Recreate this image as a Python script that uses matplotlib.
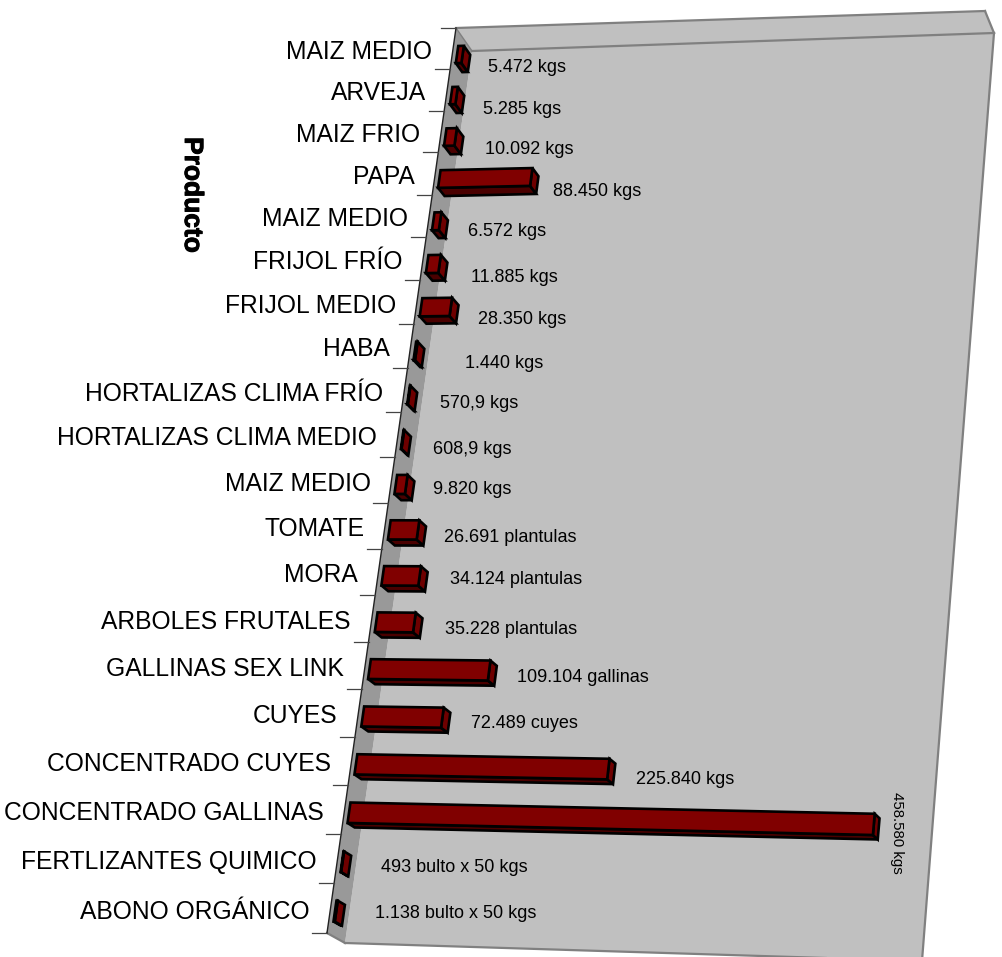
import numpy as np
import matplotlib
matplotlib.use('Agg')
import matplotlib.pyplot as plt
import matplotlib.patheffects as pe

plt.rcParams['font.family'] = ['Liberation Sans', 'DejaVu Sans']

productos = ['MAIZ MEDIO', 'ARVEJA', 'MAIZ FRIO', 'PAPA', 'MAIZ MEDIO', 'FRIJOL FRÍO',
             'FRIJOL MEDIO', 'HABA', 'HORTALIZAS CLIMA FRÍO', 'HORTALIZAS CLIMA MEDIO',
             'MAIZ MEDIO', 'TOMATE', 'MORA', 'ARBOLES FRUTALES', 'GALLINAS SEX LINK',
             'CUYES', 'CONCENTRADO CUYES', 'CONCENTRADO GALLINAS', 'FERTLIZANTES QUIMICO',
             'ABONO ORGÁNICO']
cantidades = [5472, 5285, 10092, 88450, 6572, 11885, 28350, 1440, 570.9, 608.9,
              9820, 26691, 34124, 35228, 109104, 72489, 225840, 458580, 493, 1138]
etiquetas = ['5.472 kgs', '5.285 kgs', '10.092 kgs', '88.450 kgs', '6.572 kgs', '11.885 kgs',
             '28.350 kgs', '1.440 kgs', '570,9 kgs', '608,9 kgs', '9.820 kgs',
             '26.691 plantulas', '34.124 plantulas', '35.228 plantulas', '109.104 gallinas',
             '72.489 cuyes', '225.840 kgs', '458.580 kgs', '493 bulto x 50 kgs',
             '1.138 bulto x 50 kgs']
eje_max = 500000

# hand placed data labels in the original, left edge and centre in pixels
label_x = [488, 483, 485, 553, 468, 471, 478, 465, 440, 433,
           433, 444, 450, 445, 517, 471, 636, 897, 381, 375]
label_y = [67, 108, 149, 191, 230, 276, 318, 362, 403, 448,
           489, 537, 579, 629, 676, 722, 778, 833, 866, 913]

# wall corners in pixels: top left, top right, bottom right, bottom left
front = [(456, 28), (985, 11), (910, 951), (327, 933)]
back = [(472, 51), (994, 33), (922, 961), (345, 943)]
GRAY = '#808080'
WALL = '#c0c0c0'
SIDE = '#999999'


def homography(corners):
    src = [(0, 0), (1, 0), (1, 1), (0, 1)]
    A, b = [], []
    for (u, v), (x, y) in zip(src, corners):
        A.append([u, v, 1, 0, 0, 0, -u * x, -v * x])
        A.append([0, 0, 0, u, v, 1, -u * y, -v * y])
        b += [x, y]
    return np.append(np.linalg.solve(np.array(A, float), np.array(b, float)), 1).reshape(3, 3)


H_front = homography(front)
H_back = homography(back)
n = len(productos)


def project(value, row, depth):
    p = np.array([value / eje_max, row / n, 1.0])
    a = H_front @ p
    c = H_back @ p
    return (1 - depth) * a[:2] / a[2] + depth * c[:2] / c[2]


fig = plt.figure(figsize=(10.02, 9.57), dpi=100)
ax = fig.add_axes([0, 0, 1, 1])
ax.set_xlim(0, 1002)
ax.set_ylim(957, 0)
ax.axis('off')

# walls
ax.fill(*zip(*back), color=WALL, lw=0)
ax.fill(*zip(front[0], front[1], back[1], back[0]), color=WALL, lw=0)
ax.fill(*zip(front[0], back[0], back[3], front[3]), color=SIDE, lw=0)
for p, q in [(front[0], front[1]), (back[0], back[1]), (front[1], back[1]), (back[1], back[2]),
             (back[3], back[2]), (front[3], back[3])]:
    ax.plot(*zip(p, q), color=GRAY, lw=1.6)
ax.plot(*zip(front[0], back[0]), color=GRAY, lw=1)
ax.plot(*zip(front[0], front[3]), color='#222222', lw=1)

# ticks
for i in range(n + 1):
    x, y = project(0, i, 0)
    ax.plot([x - 15, x], [y, y], color='#444444', lw=0.9)

# bars
d0, d1 = 0.25, 0.65
v0, v1 = 0.30, 0.72
for i, val in enumerate(cantidades):
    a = project(0, i + v0, d0)
    b = project(val, i + v0, d0)
    c = project(val, i + v1, d0)
    e = project(0, i + v1, d0)
    b2 = project(val, i + v0, d1)
    c2 = project(val, i + v1, d1)
    e2 = project(0, i + v1, d1)
    ax.fill(*zip(e, c, c2, e2), facecolor='#4a0000', edgecolor='black', lw=1.9, joinstyle='miter')
    ax.fill(*zip(b, b2, c2, c), facecolor='#6e0000', edgecolor='black', lw=1.9, joinstyle='miter')
    ax.fill(*zip(a, b, c, e), facecolor='#800000', edgecolor='black', lw=1.9, joinstyle='miter')

# category names
for i, nombre in enumerate(productos):
    x, y = project(0, i + 0.5, 0)
    ax.text(x - 21, y + 3.5, nombre, ha='right', va='center', fontsize=17.75, color='black')

# data labels
for lab, x, y in zip(etiquetas, label_x, label_y):
    if lab == '458.580 kgs':
        ax.text(x, y, lab, rotation=-90, ha='center', va='center', fontsize=10.8)
    else:
        ax.text(x, y + 1, lab, ha='left', va='center', fontsize=13)

t = ax.text(192, 195, 'Producto', rotation=-90, ha='center', va='center', fontsize=19, fontweight='bold')
t.set_path_effects([pe.withStroke(linewidth=0.7, foreground='black')])

fig.savefig('out.png', dpi=100)
